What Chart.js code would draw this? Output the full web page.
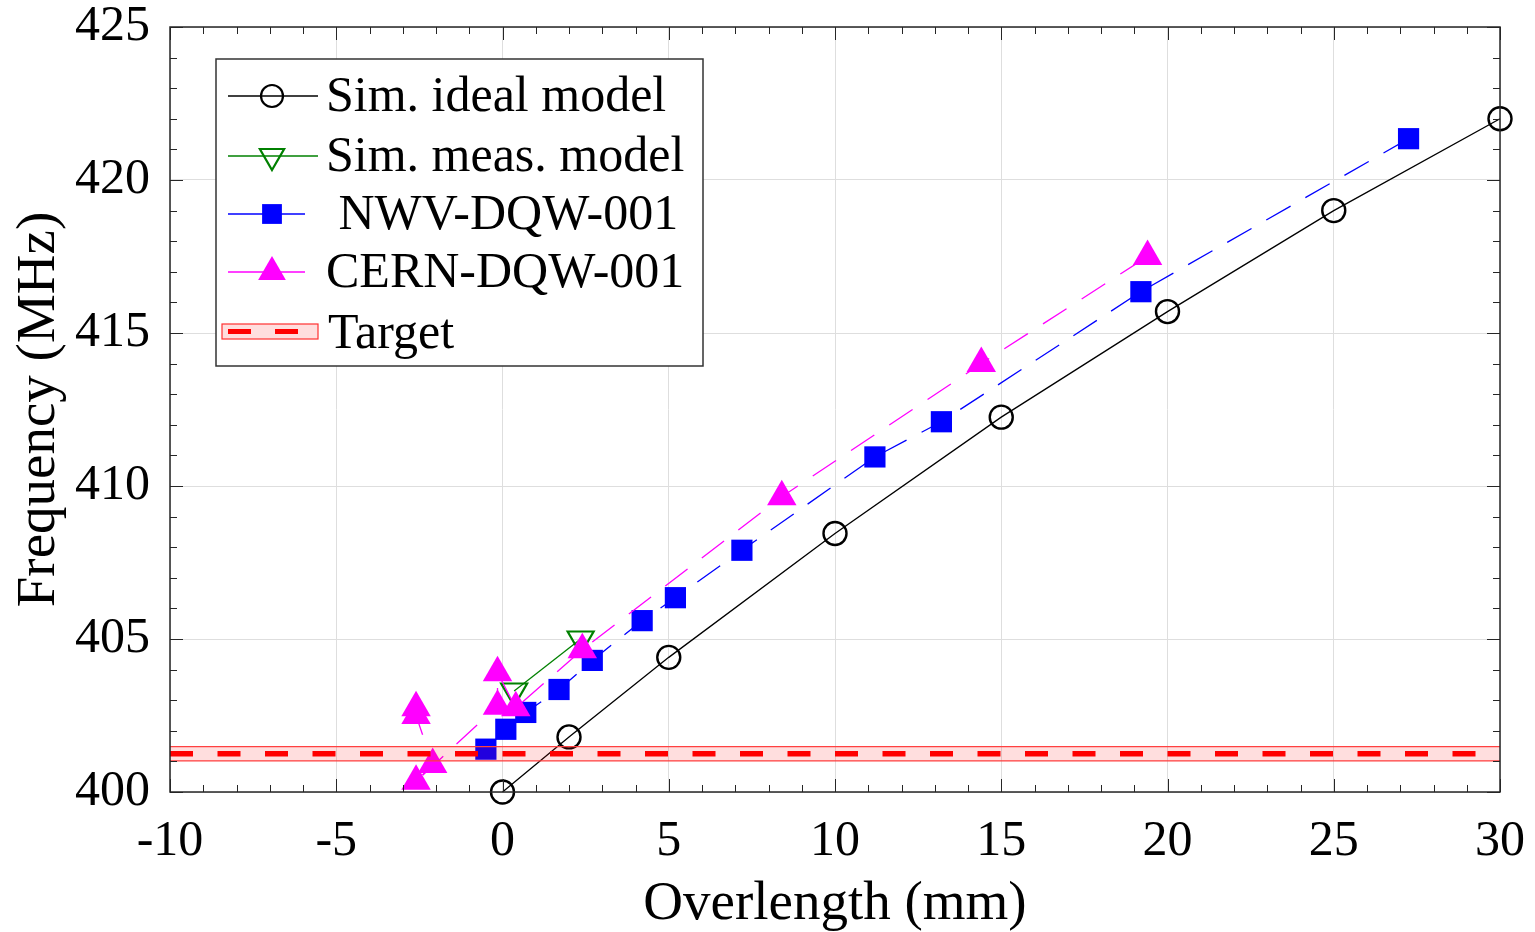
<!DOCTYPE html>
<html>
<head>
<meta charset="utf-8">
<script src="https://cdn.jsdelivr.net/npm/chart.js@4.4.0/dist/chart.umd.min.js"></script>
<style>
body { margin: 0; background: #fff; }
#wrap { width: 1535px; height: 932px; }
</style>
</head>
<body>
<div id="wrap"><canvas id="freq" width="1535" height="932"></canvas></div>
<script>
// overlength (mm) vs frequency (MHz)
var idealX = [0, 2, 5, 10, 15, 20, 25, 30];
var idealF = [400.0, 401.8, 404.4, 408.45, 412.25, 415.7, 419.0, 422.0];

var measX = [0.35, 2.35];
var measF = [403.3, 405.0];

var nwvX = [-0.5, 0.1, 0.7, 1.7, 2.7, 4.2, 5.2, 7.2, 11.2, 13.2, 19.2, 27.25];
var nwvF = [401.4, 402.05, 402.6, 403.35, 404.3, 405.6, 406.35, 407.9, 410.95, 412.1, 416.35, 421.35];

var cernX = [-2.6, -2.6, -2.1, -2.6, -0.15, -0.15, 0.4, 2.4, 8.4, 14.4, 19.4];
var cernF = [402.75, 402.5, 400.9, 400.35, 402.8, 403.9, 402.75, 404.65, 409.65, 414.0, 417.5];

var targetF = 401.25;
var targetLo = 401.02;
var targetHi = 401.48;
var xRange = [-10, 30];

var xTicks = [-10, -5, 0, 5, 10, 15, 20, 25, 30];
var yTicks = [400, 405, 410, 415, 420, 425];

var legendLabels = ['Sim. ideal model', 'Sim. meas. model', ' NWV-DQW-001', 'CERN-DQW-001', 'Target'];

function pts(xs, ys) {
    return xs.map(function (x, i) { return { x: x, y: ys[i] }; });
}
function flat(v) {
    return xRange.map(function (x) { return { x: x, y: v }; });
}

var FONT = "'Liberation Serif', 'Times New Roman', serif";

// box, grid ticks pointing inwards
var framePlugin = {
    id: 'frame',
    afterDatasetsDraw: function (chart) {
        var ctx = chart.ctx, a = chart.chartArea;
        var xs = chart.scales.x, ys = chart.scales.y;
        ctx.save();
        ctx.strokeStyle = '#262626';
        ctx.lineWidth = 1;
        ctx.beginPath();
        for (var v = -10; v <= 30; v++) {
            var px = Math.round(xs.getPixelForValue(v)) + 0.5;
            var len = v % 5 === 0 ? 13 : 7;
            ctx.moveTo(px, a.bottom); ctx.lineTo(px, a.bottom - len);
            ctx.moveTo(px, a.top); ctx.lineTo(px, a.top + len);
        }
        for (var f = 400; f <= 425; f++) {
            var py = Math.round(ys.getPixelForValue(f)) + 0.5;
            var l2 = f % 5 === 0 ? 13 : 7;
            ctx.moveTo(a.left, py); ctx.lineTo(a.left + l2, py);
            ctx.moveTo(a.right, py); ctx.lineTo(a.right - l2, py);
        }
        ctx.stroke();
        ctx.lineWidth = 1.5;
        ctx.strokeRect(a.left, a.top, a.right - a.left, a.bottom - a.top);
        ctx.restore();
    }
};

function marker(ctx, style, x, y, r, fill, stroke, bw) {
    ctx.beginPath();
    if (style === 'circle') {
        ctx.arc(x, y, r, 0, Math.PI * 2);
    } else if (style === 'rect') {
        var s = r * Math.SQRT1_2;
        ctx.rect(x - s, y - s, 2 * s, 2 * s);
    } else {
        var dir = style === 'down' ? -1 : 1;
        var h = r * Math.sqrt(3) / 2;
        ctx.moveTo(x, y - dir * r);
        ctx.lineTo(x + h, y + dir * r / 2);
        ctx.lineTo(x - h, y + dir * r / 2);
        ctx.closePath();
    }
    if (fill) { ctx.fillStyle = fill; ctx.fill(); }
    if (stroke) { ctx.strokeStyle = stroke; ctx.lineWidth = bw; ctx.stroke(); }
}

var legendPlugin = {
    id: 'boxLegend',
    afterDraw: function (chart) {
        var ctx = chart.ctx;
        ctx.save();
        ctx.fillStyle = '#fff';
        ctx.fillRect(216, 59, 487, 307);
        ctx.strokeStyle = '#333';
        ctx.lineWidth = 1.5;
        ctx.strokeRect(216, 59, 487, 307);

        var rows = [96, 156, 214, 272, 333];
        var lines = [
            { c: '#000', x2: 318, m: 'circle', r: 11, fill: null, stroke: '#000', bw: 2.2 },
            { c: '#008000', x2: 318, m: 'down', r: 14, fill: null, stroke: '#008000', bw: 2.2 },
            { c: '#0000ff', x2: 305, m: 'rect', r: 14, fill: '#0000ff', stroke: null, bw: 0 },
            { c: '#ff00ff', x2: 305, m: 'up', r: 16, fill: '#ff00ff', stroke: null, bw: 0 }
        ];
        lines.forEach(function (it, i) {
            var y = rows[i];
            ctx.strokeStyle = it.c;
            ctx.lineWidth = 1.3;
            ctx.beginPath();
            ctx.moveTo(228, y); ctx.lineTo(it.x2, y);
            ctx.stroke();
            marker(ctx, it.m, 272, y, it.r, it.fill, it.stroke, it.bw);
        });
        // target swatch
        ctx.fillStyle = 'rgba(255,0,0,0.13)';
        ctx.fillRect(222, 324, 96, 15);
        ctx.strokeStyle = '#ff3030';
        ctx.lineWidth = 1.2;
        ctx.strokeRect(222, 324, 96, 15);
        ctx.fillStyle = '#ff0000';
        ctx.fillRect(228, 329, 23, 5);
        ctx.fillRect(275, 329, 23, 5);

        ctx.fillStyle = '#000';
        ctx.font = '50px ' + FONT;
        ctx.textBaseline = 'middle';
        ctx.textAlign = 'left';
        legendLabels.forEach(function (t, i) {
            ctx.fillText(t, i === 4 ? 328 : 326, rows[i] + 2);
        });
        ctx.restore();
    }
};

var chart = new Chart(document.getElementById('freq'), {
    type: 'scatter',
    data: {
        datasets: [{
            label: 'Target',
            data: flat(targetF),
            borderColor: '#ff0000',
            borderWidth: 5.5,
            borderDash: [23, 24.5],
            pointRadius: 0,
            showLine: true,
            order: 0
        }, {
            label: 'Target hi',
            data: flat(targetHi),
            borderColor: '#ff4040',
            borderWidth: 1.2,
            backgroundColor: 'rgba(255,0,0,0.13)',
            fill: { value: targetLo },
            pointRadius: 0,
            showLine: true,
            order: 1
        }, {
            label: 'Target lo',
            data: flat(targetLo),
            borderColor: '#ff4040',
            borderWidth: 1.2,
            pointRadius: 0,
            showLine: true,
            order: 1
        }, {
            label: 'CERN-DQW-001',
            data: pts(cernX, cernF),
            borderColor: '#ff00ff',
            backgroundColor: '#ff00ff',
            borderWidth: 1.3,
            borderDash: [28, 18],
            pointStyle: 'triangle',
            pointRadius: 17,
            pointBorderWidth: 0,
            showLine: true,
            clip: false,
            order: 2
        }, {
            label: 'NWV-DQW-001',
            data: pts(nwvX, nwvF),
            borderColor: '#0000ff',
            backgroundColor: '#0000ff',
            borderWidth: 1.3,
            borderDash: [28, 17],
            pointStyle: 'rect',
            pointRadius: 15,
            pointBorderWidth: 0,
            showLine: true,
            clip: false,
            order: 3
        }, {
            label: 'Sim. meas. model',
            data: pts(measX, measF),
            borderColor: '#008000',
            backgroundColor: 'rgba(0,0,0,0)',
            borderWidth: 1.3,
            pointStyle: 'triangle',
            rotation: 180,
            pointRadius: 15,
            pointBorderWidth: 2.2,
            showLine: true,
            clip: false,
            order: 4
        }, {
            label: 'Sim. ideal model',
            data: pts(idealX, idealF),
            borderColor: '#000000',
            backgroundColor: 'rgba(0,0,0,0)',
            borderWidth: 1.3,
            pointStyle: 'circle',
            pointRadius: 11.5,
            pointBorderWidth: 2.4,
            showLine: true,
            clip: false,
            order: 5
        }]
    },
    options: {
        responsive: false,
        animation: false,
        layout: { padding: 0 },
        plugins: {
            legend: { display: false },
            tooltip: { enabled: false }
        },
        scales: {
            x: {
                type: 'linear',
                min: -10,
                max: 30,
                afterFit: function (s) {
                    s.height = 140;
                    s.paddingLeft = 0;
                    s.paddingRight = 35;
                },
                afterBuildTicks: function (s) { s.ticks = xTicks.map(function (v) { return { value: v }; }); },
                grid: { color: '#dedede', lineWidth: 1, drawTicks: false },
                border: { display: false },
                ticks: { color: '#000', font: { family: FONT, size: 50 }, padding: 20, maxRotation: 0 },
                title: {
                    display: true,
                    text: 'Overlength (mm)',
                    color: '#000',
                    font: { family: FONT, size: 55, lineHeight: 1 },
                    padding: { top: 0, bottom: 0 }
                }
            },
            y: {
                type: 'linear',
                min: 400,
                max: 425,
                afterFit: function (s) {
                    s.width = 170;
                    s.paddingTop = 27;
                    s.paddingBottom = 0;
                },
                afterBuildTicks: function (s) { s.ticks = yTicks.map(function (v) { return { value: v }; }); },
                grid: { color: '#dedede', lineWidth: 1, drawTicks: false },
                border: { display: false },
                ticks: { color: '#000', font: { family: FONT, size: 50 }, padding: 20 },
                title: {
                    display: true,
                    text: 'Frequency (MHz)',
                    color: '#000',
                    font: { family: FONT, size: 55, lineHeight: 1 },
                    padding: { top: 12, bottom: 0 }
                }
            }
        }
    },
    plugins: [framePlugin, legendPlugin]
});
</script>
</body>
</html>
